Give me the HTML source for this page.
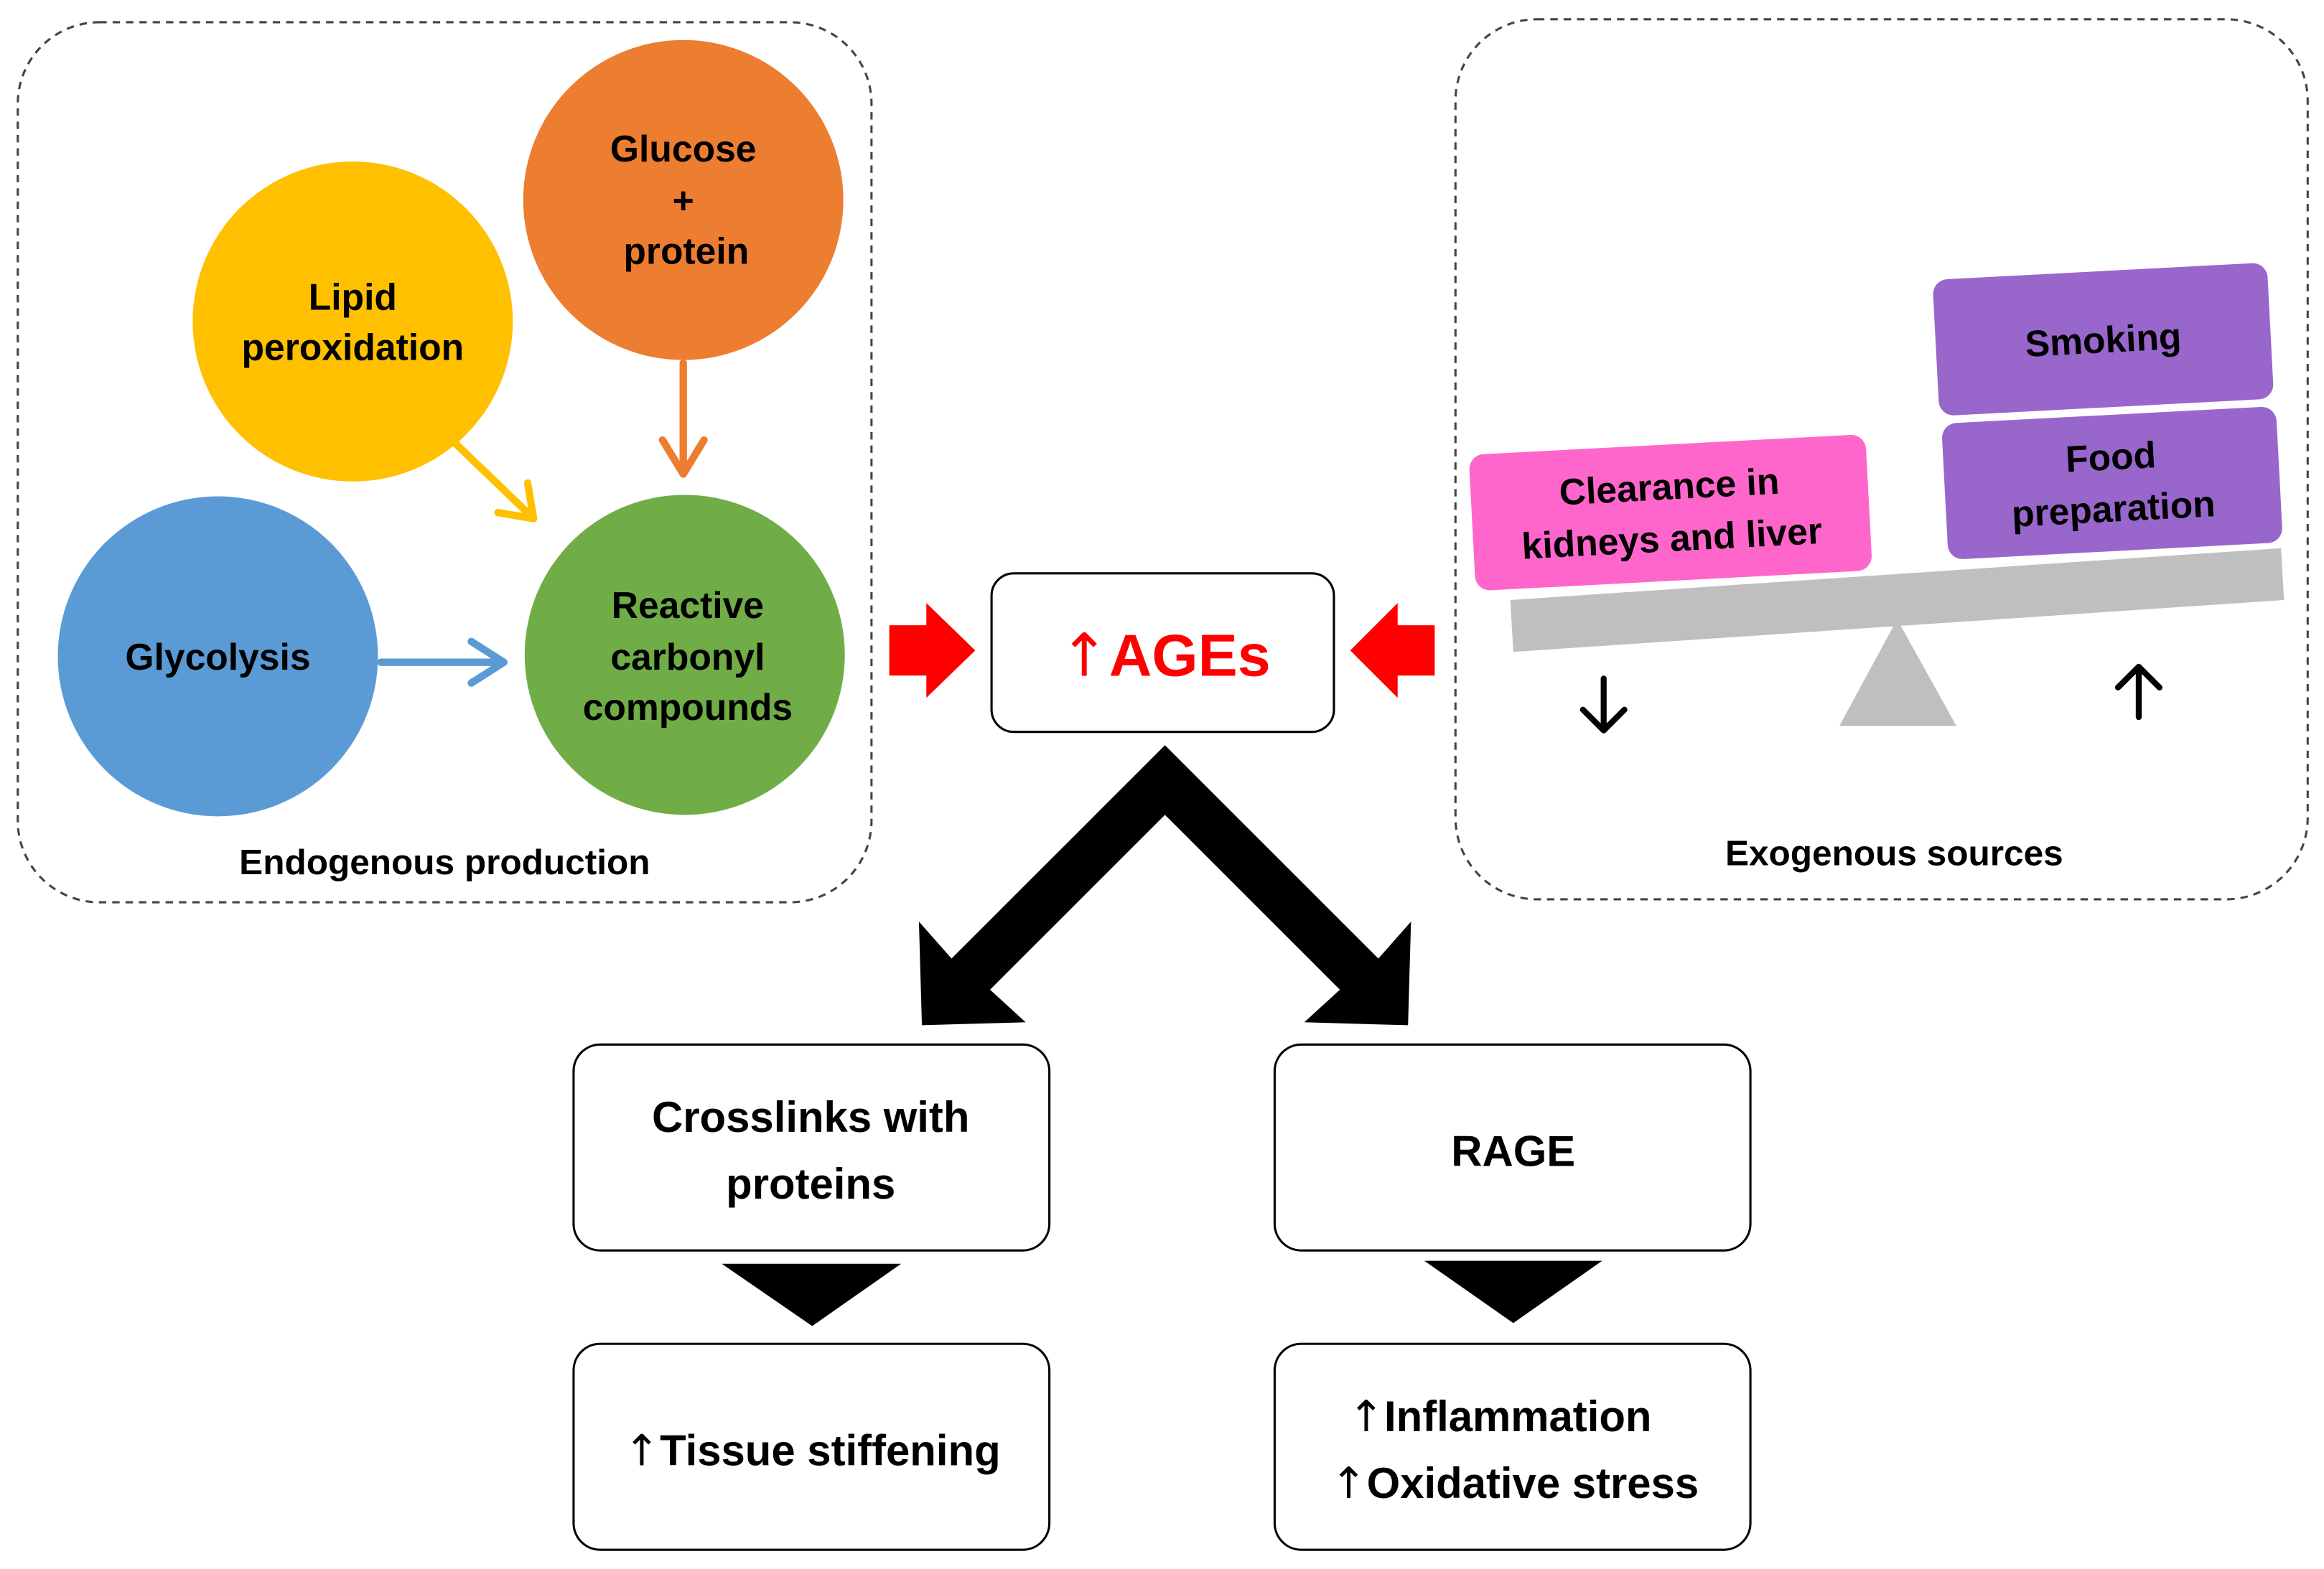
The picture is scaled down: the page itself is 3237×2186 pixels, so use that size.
<!DOCTYPE html>
<html><head><meta charset="utf-8"><style>
html,body{margin:0;padding:0;background:#fff;}
svg{display:block;}
text{font-family:"Liberation Sans",sans-serif;font-weight:bold;}
tspan.ar{font-family:"DejaVu Sans",sans-serif;font-weight:normal;}
</style></head><body>
<svg width="3237" height="2186" viewBox="0 0 1568 1059" preserveAspectRatio="none" xmlns="http://www.w3.org/2000/svg">
<!-- dashed containers -->
<rect x="12" y="15" width="576" height="594" rx="55" fill="none" stroke="#444" stroke-width="1.5" stroke-dasharray="5,4"/>
<rect x="982" y="13" width="575" height="594" rx="55" fill="none" stroke="#444" stroke-width="1.5" stroke-dasharray="5,4"/>
<!-- circles -->
<circle cx="461" cy="135" r="108" fill="#ED7D31"/>
<circle cx="238" cy="217" r="108" fill="#FFC000"/>
<circle cx="147" cy="443" r="108" fill="#5B9BD5"/>
<circle cx="462" cy="442" r="108" fill="#70AD47"/>
<g font-size="25" text-anchor="middle" fill="#000">
<text x="461" y="109">Glucose</text><text x="461" y="144">+</text><text x="463" y="178">protein</text>
<text x="238" y="209">Lipid</text><text x="238" y="243">peroxidation</text>
<text x="147" y="452">Glycolysis</text>
<text x="464" y="417">Reactive</text><text x="464" y="452">carbonyl</text><text x="464" y="486">compounds</text>
<text x="300" y="590" font-size="24">Endogenous production</text>
<text x="1278" y="584" font-size="24">Exogenous sources</text>
</g>
<!-- small arrows -->
<g fill="none" stroke-width="5" stroke-linecap="round" stroke-linejoin="round">
<path d="M461,245 V318 M447,297 L461,320 L475,297" stroke="#ED7D31"/>
<path d="M308,300 L358,348 M336,346 L360,350 L356,326" stroke="#FFC000"/>
<path d="M257,447 H338 M318,433 L340,447 L318,461" stroke="#5B9BD5"/>
</g>
<!-- red arrows -->
<path d="M600,422 H625 V407 L658,439 L625,471 V456 H600 Z" fill="#F00"/>
<path d="M968,422 H943 V407 L911,439 L943,471 V456 H968 Z" fill="#F00"/>
<!-- AGEs box -->
<rect x="669" y="387" width="231" height="107" rx="15" fill="#fff" stroke="#000" stroke-width="1.5"/>
<text x="786" y="456" font-size="40" fill="#F00" text-anchor="middle"><tspan class="ar">↑</tspan>AGEs</text>
<!-- black V arrows -->
<path d="M786,503 L930,647 L952,622 L950,692 L880,690 L904,668 L786,550 L668,668 L692,690 L622,692 L620,622 L642,647 Z" fill="#000"/>
<!-- boxes -->
<g fill="#fff" stroke="#000" stroke-width="1.5">
<rect x="387" y="705" width="321" height="139" rx="18"/>
<rect x="860" y="705" width="321" height="139" rx="18"/>
<rect x="387" y="907" width="321" height="139" rx="18"/>
<rect x="860" y="907" width="321" height="139" rx="18"/>
</g>
<path d="M487,853 H608 L548,895 Z" fill="#000"/>
<path d="M961,851 H1081 L1021,893 Z" fill="#000"/>
<g font-size="29" text-anchor="middle" fill="#000">
<text x="547" y="764">Crosslinks with</text><text x="547" y="809">proteins</text>
<text x="1021" y="787">RAGE</text>
<text x="548" y="989"><tspan class="ar">↑</tspan>Tissue stiffening</text>
<text x="1012" y="966"><tspan class="ar">↑</tspan>Inflammation</text><text x="1022" y="1011"><tspan class="ar">↑</tspan>Oxidative stress</text>
</g>
<!-- seesaw -->
<path d="M1019,405 L1539,370 L1541,405 L1021,440 Z" fill="#BFBFBF"/>
<path d="M1241,490 H1320 L1280,418 Z" fill="#BFBFBF"/>
<g transform="rotate(-3 1127 344)">
<rect x="993" y="300" width="268" height="92" rx="10" fill="#FF66CC"/>
<text x="1127" y="337" font-size="25" text-anchor="middle">Clearance in</text>
<text x="1127" y="372" font-size="25" text-anchor="middle">kidneys and liver</text>
</g>
<g transform="rotate(-3 1419 229)">
<rect x="1306" y="183" width="226" height="92" rx="10" fill="#9966CC"/>
<text x="1419" y="238" font-size="25" text-anchor="middle">Smoking</text>
</g>
<g transform="rotate(-3 1425 325)">
<rect x="1312" y="280" width="226" height="92" rx="10" fill="#9966CC"/>
<text x="1425" y="317" font-size="25" text-anchor="middle">Food</text>
<text x="1425" y="352" font-size="25" text-anchor="middle">preparation</text>
</g>
<g fill="none" stroke="#000" stroke-width="4" stroke-linecap="round" stroke-linejoin="round">
<path d="M1082,458 V493 M1068,479 L1082,493 L1096,479"/>
<path d="M1443,484 V450 M1429,464 L1443,450 L1457,464"/>
</g>
</svg>
</body></html>
